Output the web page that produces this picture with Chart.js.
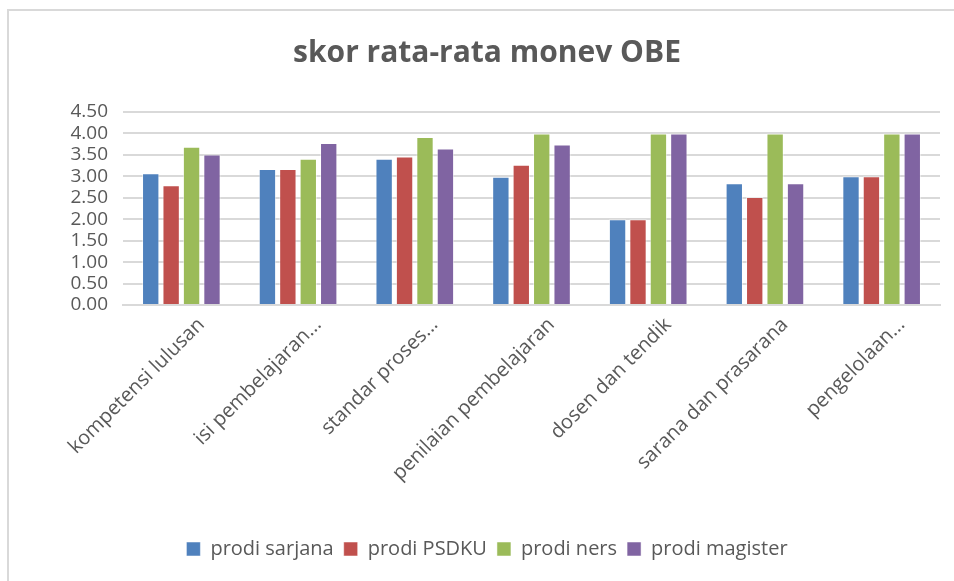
<!DOCTYPE html>
<html>
<head>
<meta charset="utf-8">
<script src="https://cdn.jsdelivr.net/npm/chart.js@4.4.0/dist/chart.umd.min.js"></script>
<style>
    body { margin: 0; background: #fff; }
    #wrap { position: relative; width: 954px; height: 581px; overflow: hidden; }
    #frame { position: absolute; left: 7px; top: 9px; width: 1000px; height: 700px; border: 2px solid #d9d9d9; box-sizing: border-box; }
    #myChart { position: absolute; left: 0; top: 0; }
</style>
</head>
<body>
<div id="wrap">
    <div id="frame"></div>
    <canvas id="myChart" width="954" height="581"></canvas>
</div>
<script>
const categories = ['kompetensi lulusan', 'isi pembelajaran...', 'standar proses...', 'penilaian pembelajaran', 'dosen dan tendik', 'sarana dan prasarana', 'pengelolaan...'];
const seriesNames = ['prodi sarjana', 'prodi PSDKU', 'prodi ners', 'prodi magister'];
const sarjana = [3.07, 3.17, 3.41, 2.99, 2.00, 2.84, 3.00];
const psdku = [2.79, 3.17, 3.46, 3.27, 2.00, 2.52, 3.00];
const ners = [3.69, 3.41, 3.92, 4.00, 4.00, 4.00, 4.00];
const magister = [3.51, 3.78, 3.65, 3.74, 4.00, 2.84, 4.00];
const colors = ['#4F81BD', '#C0504D', '#9BBB59', '#8064A2'];

const textColor = '#595959';
const fontFamily = "'Open Sans', 'Noto Sans', sans-serif";

const ctx = document.getElementById('myChart').getContext('2d');
const myChart = new Chart(ctx, {
    type: 'bar',
    data: {
        labels: categories,
        datasets: [sarjana, psdku, ners, magister].map((vals, i) => ({
            label: seriesNames[i],
            data: vals,
            backgroundColor: colors[i],
            borderColor: 'rgba(255,255,255,0.5)',
            borderWidth: 1,
            categoryPercentage: 0.7,
            barPercentage: 0.85
        }))
    },
    options: {
        responsive: false,
        animation: false,
        // extra left padding keeps the title and legend centred like the original
        layout: { padding: { left: 34, right: 14, top: 0, bottom: 12 } },
        plugins: {
            title: {
                display: true,
                text: 'skor rata-rata monev OBE',
                color: textColor,
                font: { family: fontFamily, size: 30, weight: 'bold' },
                padding: { top: 35, bottom: 41 }
            },
            legend: {
                position: 'bottom',
                labels: {
                    color: textColor,
                    font: { family: fontFamily, size: 20 },
                    boxWidth: 14,
                    boxHeight: 14,
                    padding: 10
                }
            },
            tooltip: { enabled: false }
        },
        scales: {
            x: {
                grid: { display: false },
                border: { color: '#d9d9d9', width: 2 },
                ticks: {
                    color: textColor,
                    font: { family: fontFamily, size: 20 },
                    minRotation: 45,
                    maxRotation: 45,
                    autoSkip: false,
                    labelOffset: 20,
                    padding: 0
                },
                afterFit: (scale) => { scale.height = 224; }
            },
            y: {
                min: 0,
                max: 4.5,
                grid: { color: '#d9d9d9', lineWidth: 2, drawTicks: false },
                border: { display: false },
                ticks: {
                    stepSize: 0.5,
                    autoSkip: false,
                    color: textColor,
                    font: { family: fontFamily, size: 19 },
                    padding: 15,
                    callback: (v) => Number(v).toFixed(2)
                },
                afterFit: (scale) => { scale.width = 89; }
            }
        }
    }
});
</script>
</body>
</html>
